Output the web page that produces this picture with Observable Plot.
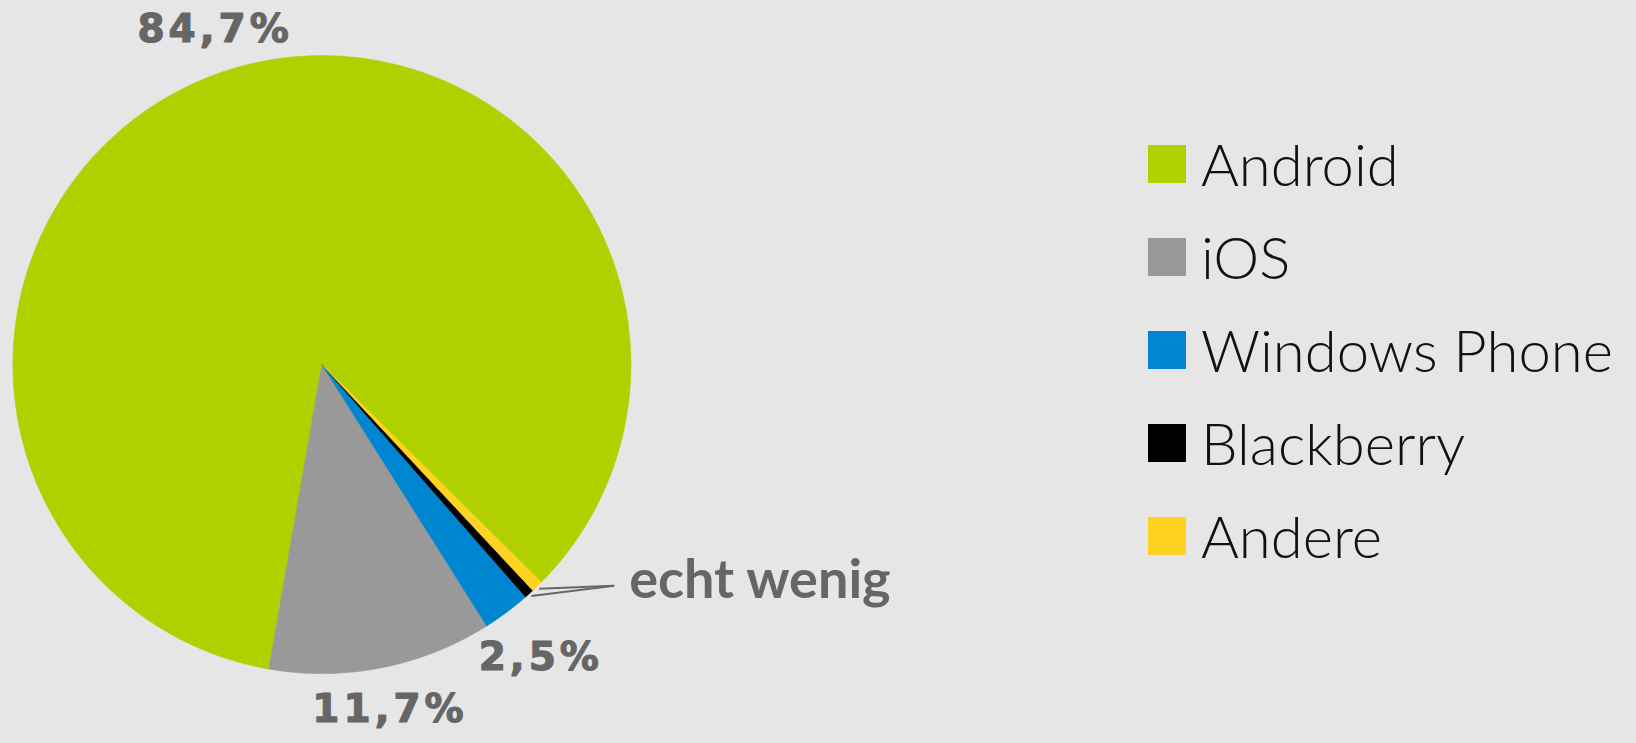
<!DOCTYPE html>
<html>
<head>
<meta charset="utf-8">
<script src="https://cdn.jsdelivr.net/npm/d3@7"></script>
<script src="https://cdn.jsdelivr.net/npm/@observablehq/plot@0.6"></script>
<style>
  html, body { margin: 0; padding: 0; background: #e6e6e6; }
  #wrap { position: relative; width: 1636px; height: 743px; overflow: hidden; background: #e6e6e6; }
  #chart svg { display: block; background: transparent !important; }
  g[font-family="DejaVu Sans"] text { letter-spacing: 4px; }
  .lg-swatches {
    position: absolute !important; left: 1148px; top: 117px;
    display: flex !important; flex-direction: column !important; align-items: flex-start !important;
    flex-wrap: nowrap !important; margin: 0 !important; min-height: 0 !important;
    font-family: Lato, "Open Sans", sans-serif !important; font-weight: 300 !important;
    font-size: 58px !important; color: #111 !important; background: transparent !important;
  }
  .lg-swatch {
    display: flex !important; align-items: center !important; height: 93px;
    margin: 0 !important; padding: 0 !important; white-space: nowrap;
  }
  .lg-swatch svg { margin-right: 15px !important; flex-shrink: 0; }
</style>
</head>
<body>
<div id="wrap"><div id="chart"></div></div>
<script>
// ---- data ----
const categories = ["Android", "iOS", "Windows Phone", "Blackberry", "Andere"];
const shares = [84.7, 11.7, 2.5, 0.5, 0.6];
const colors = ["#b0d000", "#999999", "#0085d0", "#000000", "#ffd321"];
const labeledCategories = ["Android", "iOS", "Windows Phone"];
const smallCategories = ["Blackberry", "Andere"];
const smallNote = "echt wenig";

// ---- layout ----
const W = 1636, H = 743;
const cx = 321.4, cy = 364.1, R = 309;      // pie centre and radius (px)
const startAngle = 134.8;                    // degrees clockwise from 12 o'clock, slices run counter-clockwise

const rad = d => d * Math.PI / 180;
const polar = (deg, rr) => [rr * Math.sin(rad(deg)), rr * Math.cos(rad(deg))];
const fmt = v => v.toFixed(1).replace(".", ",") + "%";

const total = d3.sum(shares);
let acc = startAngle;
const slices = categories.map((c, i) => {
  const a0 = acc, a1 = acc - shares[i] / total * 360;
  acc = a1;
  return {c, v: shares[i], a0, a1, mid: (a0 + a1) / 2};
});

// polygon points for each slice (unit circle, data space)
const pts = [];
for (const s of slices) {
  pts.push({c: s.c, x: 0, y: 0});
  const n = Math.max(2, Math.ceil(Math.abs(s.a0 - s.a1) / 0.4));
  for (let k = 0; k <= n; k++) {
    const t = s.a0 + (s.a1 - s.a0) * k / n;
    const [x, y] = polar(t, 1);
    pts.push({c: s.c, x, y});
  }
}

// percentage labels outside the pie: centred on the slice's mid ray,
// pushed outward until the nearest corner of the text box clears the rim
const labels = slices.filter(s => labeledCategories.includes(s.c)).map(s => {
  const ux = Math.sin(rad(s.mid)), uy = Math.cos(rad(s.mid));
  const text = fmt(s.v);
  const hw = text.length * 15, hh = 20, hd = 14, g = 22, clear = 12;
  let d = R + g + Math.min(hw / Math.abs(ux), hh / Math.abs(uy));
  const cornerDist = d => Math.hypot(d * ux - Math.sign(ux) * hw, d * uy - Math.sign(uy) * hd);
  while (cornerDist(d) < R + clear) d += 1;
  return {x: d * ux / R, y: d * uy / R, text};
});

// call-out for the tiny slices
const small = slices.filter(s => smallCategories.includes(s.c));
const edges = small.map(s => { const [x, y] = polar(s.mid, 1.01); return {c: s.c, x, y}; });
const topEdge = edges.reduce((a, b) => (b.y > a.y ? b : a));
const knot = {x: topEdge.x + 75 / R, y: topEdge.y + 3 / R};
const leaders = edges.map(e => ({x1: e.x, y1: e.y, x2: knot.x, y2: knot.y}));
const note = [{x: knot.x + 15 / R, y: knot.y, text: smallNote}];

const chart = Plot.plot({
  width: W, height: H,
  margin: 0,
  x: {type: "linear", domain: [-1, 1], range: [cx - R, cx + R], axis: null},
  y: {type: "linear", domain: [-1, 1], range: [cy + R, cy - R], axis: null},
  color: {domain: categories, range: colors},
  style: {background: "transparent", overflow: "visible"},
  marks: [
    Plot.line(pts, {x: "x", y: "y", z: "c", fill: "c", stroke: "c", strokeWidth: 0.6, curve: "linear-closed"}),
    Plot.text(labels, {x: "x", y: "y", text: "text", fontFamily: "DejaVu Sans", fontWeight: "bold",
      fontSize: 39, fill: "#666666", stroke: "#666666", strokeWidth: 1.2, lineAnchor: "middle"}),
    Plot.link(leaders, {x1: "x1", y1: "y1", x2: "x2", y2: "y2", stroke: "#666666", strokeWidth: 2}),
    Plot.text(note, {x: "x", y: "y", text: "text", textAnchor: "start", lineAnchor: "middle", dy: -5,
      fontFamily: "Lato", fontWeight: "bold", fontSize: 54, fill: "#666666"})
  ]
});

const wrap = document.getElementById("wrap");
document.getElementById("chart").appendChild(chart);
const legend = chart.legend("color", {legend: "swatches", swatchSize: 38, className: "lg"});
wrap.appendChild(legend);
</script>
</body>
</html>
